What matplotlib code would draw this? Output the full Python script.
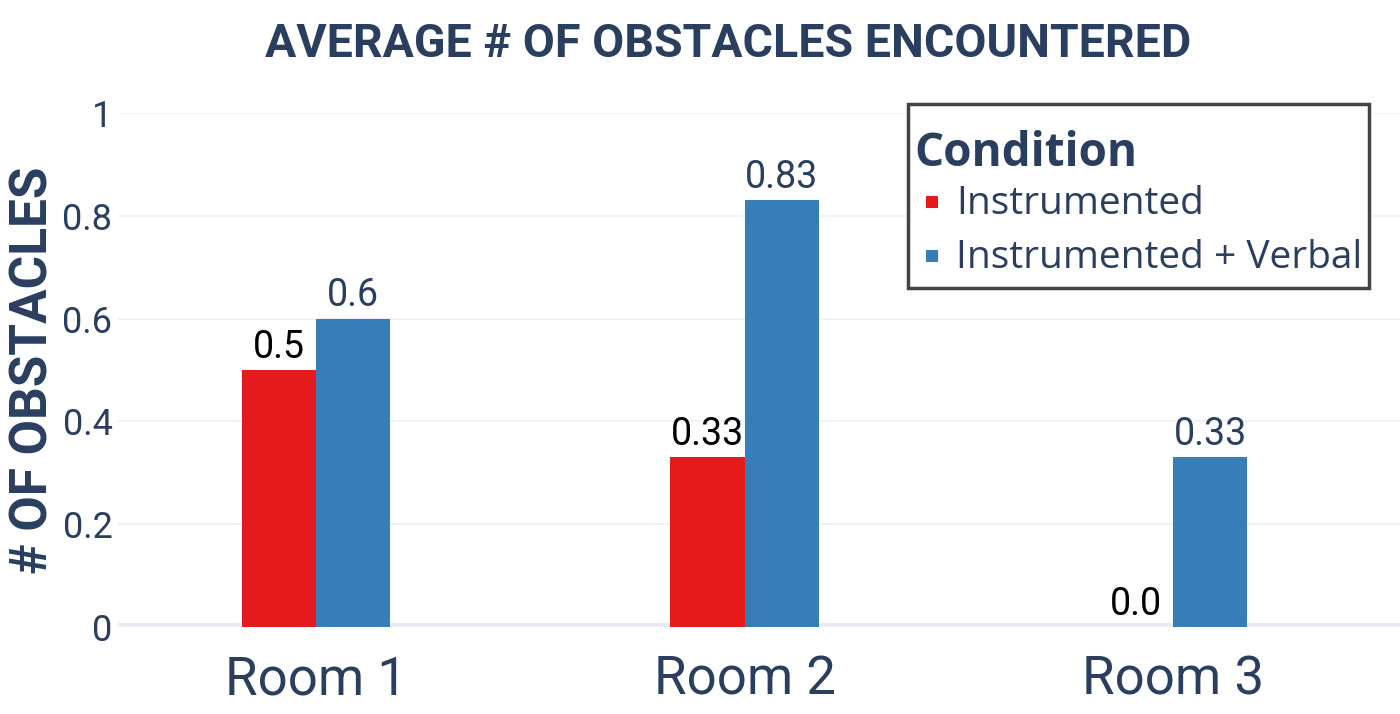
import matplotlib.pyplot as plt
from matplotlib.patches import Rectangle
import numpy as np

rooms = ["Room 1", "Room 2", "Room 3"]
instrumented = [0.5, 0.33, 0.0]
instrumented_verbal = [0.6, 0.83, 0.33]
series_names = ["Instrumented", "Instrumented + Verbal"]
y_ticks = [0, 0.2, 0.4, 0.6, 0.8, 1]
y_tick_labels = ["0", "0.2", "0.4", "0.6", "0.8", "1"]

TEXT = "#2a3f5f"
RED = "#e41a1c"
BLUE = "#377eb8"
W, H = 1400, 714

plt.rcParams["font.family"] = ["Roboto", "DejaVu Sans"]

fig = plt.figure(figsize=(14, 7.14), dpi=100)
ax = fig.add_axes([118 / W, 87 / H, 1 - 118 / W, (627 - 113) / H])

x = np.arange(len(rooms))
w = 0.173
b1 = ax.bar(x - w / 2, instrumented, width=w, color=RED, zorder=3)
b2 = ax.bar(x + w / 2, instrumented_verbal, width=w, color=BLUE, zorder=3)

ax.bar_label(b1, labels=[str(v) for v in instrumented], padding=3,
             fontsize=27, color="black")
ax.bar_label(b2, labels=[str(v) for v in instrumented_verbal], padding=3,
             fontsize=27, color=TEXT)

ax.set_xlim((118 - 316) / 428.5, (1400 - 316) / 428.5)
ax.set_ylim(0, 1)
ax.set_xticks(x)
ax.set_xticklabels(rooms, fontsize=38, color=TEXT)
ax.set_yticks(y_ticks)
ax.set_yticklabels(y_tick_labels, fontsize=26, color=TEXT)
ax.tick_params(axis="x", length=0, pad=20)
ax.tick_params(axis="y", length=0, pad=4)

for s in ax.spines.values():
    s.set_visible(False)
ax.grid(axis="y", color="#eef0f5", linewidth=1.2, zorder=0)
ax.axhline(0, color="#e5ecf6", linewidth=6.5, zorder=1)

ax.set_ylabel("# OF OBSTACLES", fontsize=37, fontweight="bold", color=TEXT,
              labelpad=3)
fig.text(0.52, 0.938, "AVERAGE # OF OBSTACLES ENCOUNTERED", ha="center",
         va="center", fontsize=33.5, fontweight="bold", color=TEXT)

# legend box drawn by hand, in pixel positions of the figure
def px(xp, yp):
    return xp / W, 1 - yp / H

fig.patches.append(Rectangle(px(908, 288), 461 / W, 184 / H,
                             transform=fig.transFigure, facecolor="white",
                             edgecolor="#444444", linewidth=2.5, zorder=5))
fig.text(*px(914, 153), "Condition", ha="left", va="center",
         family="Open Sans", fontsize=33, fontweight="bold", color=TEXT,
         zorder=6)
for i, (name, col) in enumerate(zip(series_names, [RED, BLUE])):
    yc = 203 + i * 54
    fig.patches.append(Rectangle(px(926, yc + 5), 12 / W, 12 / H,
                                 transform=fig.transFigure, facecolor=col,
                                 edgecolor="none", zorder=6))
    fig.text(*px(956, yc + 1), name, ha="left", va="center",
             family="Open Sans", fontsize=28, color=TEXT, zorder=6)

fig.savefig("out.png", dpi=100)
